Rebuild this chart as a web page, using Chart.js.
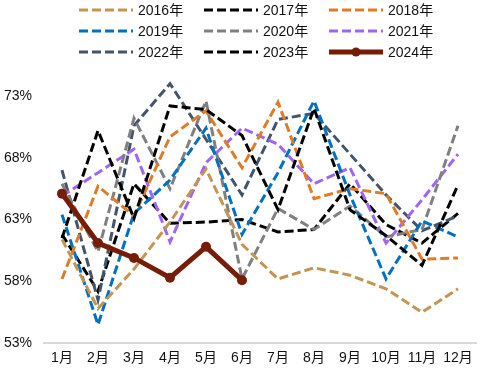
<!DOCTYPE html>
<html>
<head>
<meta charset="utf-8">
<script src="https://cdn.jsdelivr.net/npm/chart.js@4.4.1/dist/chart.umd.min.js"></script>
<style>
  html, body { margin: 0; padding: 0; background: #fff; }
  #wrap { width: 485px; height: 375px; position: relative; }
</style>
</head>
<body>
<div id="wrap"><canvas id="chart"></canvas></div>
<script>
// months on the x axis
const months = ["1月", "2月", "3月", "4月", "5月", "6月", "7月", "8月", "9月", "10月", "11月", "12月"];

// yearly series, percent
const y2016 = [61.4, 55.8, 59.0, 62.8, 67.1, 61.0, 58.2, 59.1, 58.5, 57.4, 55.5, 57.4];
const y2017 = [61.5, 70.2, 63.1, 72.2, 71.9, 69.8, 63.8, 72.0, 63.8, 61.7, 59.3, 65.8];
const y2018 = [58.2, 65.7, 63.3, 69.7, 71.8, 67.2, 72.5, 64.7, 65.5, 65.1, 59.8, 59.9];
const y2019 = [63.4, 54.5, 63.5, 66.2, 70.4, 61.8, 66.8, 72.6, 65.0, 58.2, 62.9, 61.6];
const y2020 = [65.9, 60.4, 71.2, 65.5, 72.6, 58.2, 63.9, 62.2, 64.1, 61.6, 62.2, 70.6];
const y2021 = [64.9, 66.8, 68.7, 61.2, 67.6, 70.4, 69.1, 65.9, 67.2, 61.1, 64.6, 68.3];
const y2022 = [67.0, 56.5, 70.6, 74.0, 69.5, 65.0, 71.1, 71.6, 68.3, 65.0, 62.1, 63.3];
const y2023 = [61.8, 57.2, 65.9, 62.7, 62.8, 63.0, 62.0, 62.2, 65.9, 62.6, 61.1, 63.5];
const y2024 = [65.1, 61.1, 59.9, 58.3, 60.8, 58.1];

const yTicks = [53, 58, 63, 68, 73];

const FONT = "'Liberation Sans', Arial, 'Noto Sans CJK SC', sans-serif";

function dashed(label, data, color) {
    return {
        label: label,
        data: data,
        borderColor: color,
        backgroundColor: color,
        borderWidth: 3,
        borderDash: [9, 4],
        pointRadius: 0,
        tension: 0,
        clip: false,
        order: 1
    };
}

const datasets = [
    dashed("2016年", y2016, "#C49552"),
    dashed("2017年", y2017, "#000000"),
    dashed("2018年", y2018, "#E07B28"),
    dashed("2019年", y2019, "#0070C0"),
    dashed("2020年", y2020, "#808080"),
    dashed("2021年", y2021, "#9F65F7"),
    dashed("2022年", y2022, "#44546A"),
    dashed("2023年", y2023, "#000000"),
    {
        label: "2024年",
        data: y2024,
        borderColor: "#761D06",
        backgroundColor: "#761D06",
        borderWidth: 5,
        pointRadius: 5,
        pointBorderWidth: 0,
        pointBackgroundColor: "#761D06",
        tension: 0,
        clip: false,
        order: 0
    }
];

// legend drawn as a 3x3 grid like the original
const gridLegend = {
    id: "gridLegend",
    afterDraw(chart) {
        const ctx = chart.ctx;
        const left = 79, colW = 125, rowH = 21, top = 10, lineLen = 54;
        ctx.save();
        chart.data.datasets.forEach((ds, i) => {
            const x = left + (i % 3) * colW;
            const y = top + Math.floor(i / 3) * rowH;
            ctx.strokeStyle = ds.borderColor;
            ctx.lineWidth = ds.borderWidth;
            ctx.setLineDash(ds.borderDash || []);
            ctx.beginPath();
            ctx.moveTo(x, y);
            ctx.lineTo(x + lineLen, y);
            ctx.stroke();
            if (ds.pointRadius) {
                ctx.setLineDash([]);
                ctx.fillStyle = ds.pointBackgroundColor;
                ctx.beginPath();
                ctx.arc(x + lineLen / 2, y, ds.pointRadius - 0.5, 0, Math.PI * 2);
                ctx.fill();
            }
            ctx.setLineDash([]);
            ctx.fillStyle = "#111";
            ctx.font = "14px " + FONT;
            ctx.textBaseline = "middle";
            ctx.textAlign = "left";
            ctx.fillText(ds.label, x + lineLen + 5, y + 1);
        });
        ctx.restore();
    }
};

new Chart(document.getElementById("chart"), {
    type: "line",
    data: { labels: months, datasets: datasets },
    options: {
        responsive: true,
        maintainAspectRatio: false,
        animation: false,
        layout: { padding: { top: 96, left: 3, right: 9, bottom: 1 } },
        plugins: {
            legend: { display: false },
            tooltip: { enabled: false }
        },
        scales: {
            x: {
                offset: true,
                grid: { display: false, drawTicks: false },
                border: { display: true, color: "#D9D9D9", width: 2 },
                ticks: { padding: 7, color: "#111", font: { size: 14, family: FONT }, maxRotation: 0, autoSkip: false }
            },
            y: {
                min: yTicks[0],
                max: yTicks[yTicks.length - 1],
                afterBuildTicks: axis => { axis.ticks = yTicks.map(v => ({ value: v })); },
                afterFit: axis => { axis.width = 41; },
                grid: { display: false, drawTicks: false },
                border: { display: false },
                ticks: { padding: 12, color: "#111", font: { size: 14, family: FONT }, callback: v => v + "%" }
            }
        }
    },
    plugins: [gridLegend]
});
</script>
</body>
</html>
